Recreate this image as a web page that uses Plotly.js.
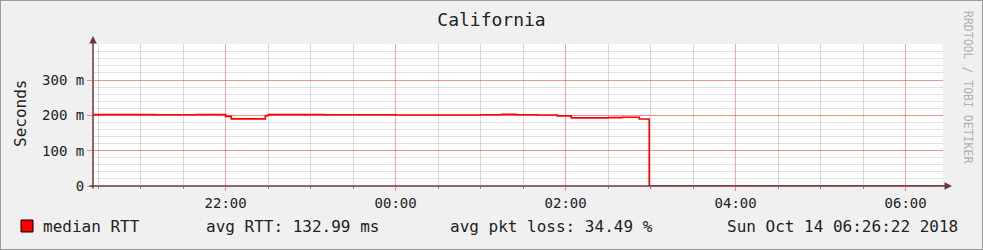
<!DOCTYPE html>
<html><head><meta charset="utf-8">
<script src="https://cdn.plot.ly/plotly-3.0.1.min.js"></script>
<style>
html,body{margin:0;padding:0;background:#f0f0f0;}
#wrap{position:relative;width:983px;height:250px;}
#c{width:983px;height:250px;}
#frame{position:absolute;left:0;top:0;width:981px;height:248px;border:1px solid #9a9a9a;pointer-events:none;}
</style></head>
<body><div id="wrap"><div id="c"></div><div id="frame"></div></div>
<script>
// ---- data ----
const times = [
  '2018-10-13 20:26:22','2018-10-13 21:10','2018-10-13 21:40','2018-10-13 22:00','2018-10-13 22:04',
  '2018-10-13 22:28','2018-10-13 22:30','2018-10-13 23:10','2018-10-14 00:00','2018-10-14 00:30',
  '2018-10-14 01:00','2018-10-14 01:15','2018-10-14 01:25','2018-10-14 01:40','2018-10-14 01:54',
  '2018-10-14 02:04','2018-10-14 02:30','2018-10-14 02:40','2018-10-14 02:52','2018-10-14 02:59',
  '2018-10-14 06:26:22'
];
const rtt = [
  0.2020,0.2015,0.2022,0.1970,0.1900,
  0.1990,0.2020,0.2015,0.2010,0.2012,
  0.2018,0.2028,0.2015,0.2012,0.1985,
  0.1930,0.1935,0.1945,0.1895,0,
  0
];
const yTickVals = [0, 0.1, 0.2, 0.3];
const yTickText = ['0', '100 m', '200 m', '300 m'];
const titleText = 'California';
const yTitle = 'Seconds';
const seriesName = 'median RTT';
const avgRtt = 'avg RTT: 132.99 ms';
const avgLoss = 'avg pkt loss: 34.49 %';
const stamp = 'Sun Oct 14 06:26:22 2018';
const watermark = 'RRDTOOL / TOBI OETIKER';
const xStart = '2018-10-13 20:26:22', xEnd = '2018-10-14 06:26:22';

const mono = 'DejaVu Sans Mono, monospace';
const txt = '#222222';
const axisCol = '#6a3a3a';

const trace = {
  x: times, y: rtt, type: 'scatter', mode: 'lines',
  line: {shape: 'hv', color: '#ff0000', width: 1.6},
  name: seriesName, hoverinfo: 'skip'
};

const L = 93, R = 943, T = 44, B = 186;
const px = v => (v - L) / (R - L);
const py = v => (B - v) / (B - T);

const layout = {
  width: 983, height: 250,
  margin: {l: L, r: 983 - R, t: T, b: 250 - B, pad: 0},
  paper_bgcolor: '#f0f0f0', plot_bgcolor: '#ffffff',
  showlegend: false,
  title: {text: titleText, font: {family: mono, size: 18, color: txt},
          x: 0.5, xref: 'container', xanchor: 'center', y: 1 - 20/250, yref: 'container', yanchor: 'middle'},
  xaxis: {
    type: 'date', range: [xStart, xEnd], tick0: '2018-10-13 22:00', dtick: 7200000,
    tickformat: '%H:%M', tickfont: {family: mono, size: 14, color: txt},
    showgrid: true, gridcolor: 'rgba(255,0,0,0.35)', gridwidth: 1,
    ticks: 'outside', ticklen: 4, tickcolor: 'rgba(255,0,0,0.45)',
    minor: {dtick: 1800000, showgrid: true, gridcolor: 'rgba(120,120,120,0.28)', ticks: 'outside', ticklen: 2, tickcolor: '#888'},
    showline: false, zeroline: false, fixedrange: true
  },
  yaxis: {
    range: [0, 0.402], tickvals: yTickVals, ticktext: yTickText,
    tickfont: {family: mono, size: 14, color: txt},
    showgrid: true, gridcolor: 'rgba(255,0,0,0.35)', gridwidth: 1,
    ticks: 'outside', ticklen: 5, tickcolor: 'rgba(255,0,0,0.45)',
    minor: {dtick: 0.02, showgrid: true, gridcolor: 'rgba(120,120,120,0.22)'},
    showline: false, zeroline: false, fixedrange: true
  },
  shapes: [
    {type: 'rect', xref: 'paper', yref: 'paper', x0: px(21), x1: px(33), y0: py(232), y1: py(220),
     fillcolor: '#ff0000', line: {color: '#000000', width: 1}}
  ],
  annotations: [
    // axes with arrows
    {xref: 'paper', yref: 'paper', x: px(952), y: 0, ax: -(952 - 88), ay: 0, axref: 'pixel', ayref: 'pixel',
     text: '', showarrow: true, arrowhead: 2, arrowsize: 1, arrowwidth: 1.5, arrowcolor: axisCol},
    {xref: 'paper', yref: 'paper', x: 0, y: py(36), ax: 0, ay: (190 - 36), axref: 'pixel', ayref: 'pixel',
     text: '', showarrow: true, arrowhead: 2, arrowsize: 1, arrowwidth: 1.5, arrowcolor: axisCol},
    {xref: 'paper', yref: 'paper', x: px(20), y: py(114), text: yTitle, textangle: -90, showarrow: false,
     xanchor: 'center', yanchor: 'middle', font: {family: mono, size: 16, color: txt}},
    {xref: 'paper', yref: 'paper', x: px(968), y: py(87), text: watermark, textangle: 90, showarrow: false,
     xanchor: 'center', yanchor: 'middle', font: {family: mono, size: 11.5, color: '#b0b0b0'}},
    {xref: 'paper', yref: 'paper', x: px(41), y: py(226), text: seriesName, showarrow: false,
     xanchor: 'left', yanchor: 'middle', font: {family: mono, size: 16, color: txt}},
    {xref: 'paper', yref: 'paper', x: px(204), y: py(226), text: avgRtt, showarrow: false,
     xanchor: 'left', yanchor: 'middle', font: {family: mono, size: 16, color: txt}},
    {xref: 'paper', yref: 'paper', x: px(448), y: py(226), text: avgLoss, showarrow: false,
     xanchor: 'left', yanchor: 'middle', font: {family: mono, size: 16, color: txt}},
    {xref: 'paper', yref: 'paper', x: px(960), y: py(226), text: stamp, showarrow: false,
     xanchor: 'right', yanchor: 'middle', font: {family: mono, size: 16, color: txt}}
  ]
};

Plotly.newPlot('c', [trace], layout, {staticPlot: true, displayModeBar: false});
</script>
</body></html>
